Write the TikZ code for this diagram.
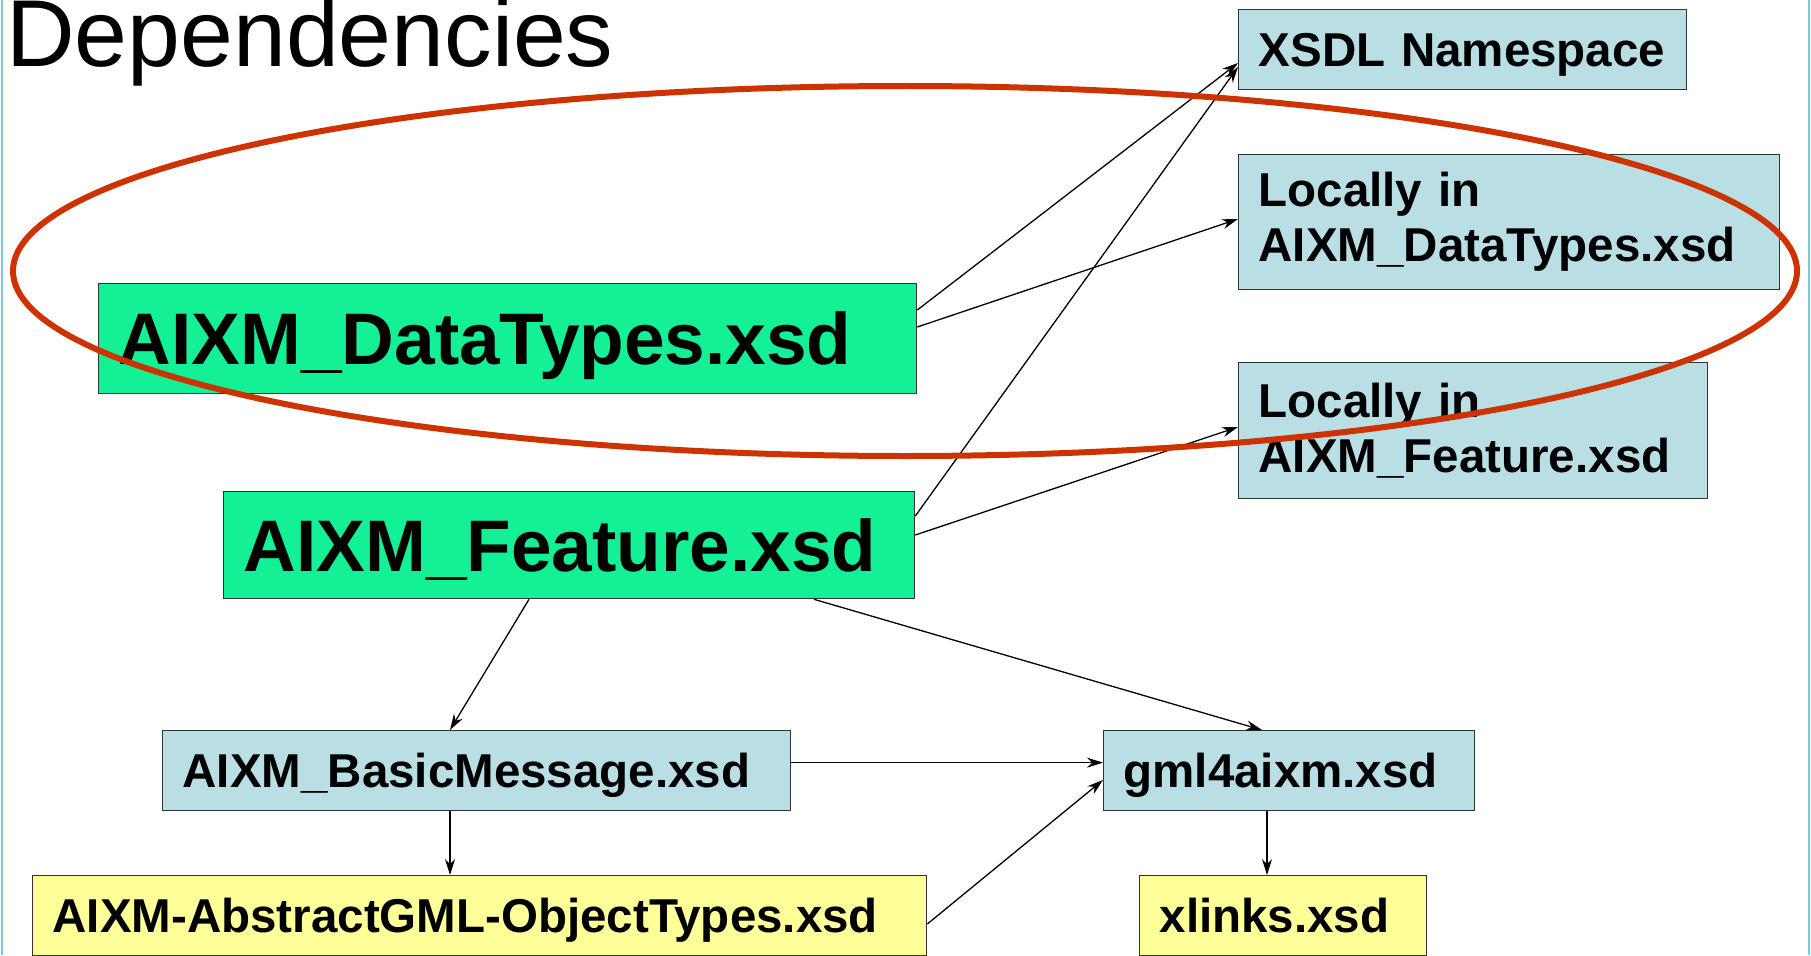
\documentclass[tikz,border=0pt]{standalone}
\usepackage{fontspec}
\setmainfont{Liberation Sans}
\usetikzlibrary{arrows.meta}
\definecolor{boxblue}{RGB}{185,223,229}
\definecolor{boxgreen}{RGB}{20,240,150}
\definecolor{boxyellow}{RGB}{255,255,153}
\definecolor{ringred}{RGB}{204,51,0}
\definecolor{slideedge}{RGB}{120,200,235}
\tikzset{
  filebox/.style={draw=black!80, line width=1.3pt, anchor=north west, inner xsep=20pt, inner ysep=0pt, align=left,
    execute at begin node={\hyphenpenalty=10000\exhyphenpenalty=10000}},
  smallfile/.style={filebox, font=\bfseries\fontsize{47.5}{55}\selectfont},
  oneline/.style={text height=34pt, text depth=0pt},
  bigfile/.style={filebox, fill=boxgreen, font=\bfseries\fontsize{73}{80}\selectfont, text height=52pt, text depth=0pt},
  dep/.style={draw=black, line width=1.3pt, -{Stealth[length=16pt,width=10pt]}},
  ring/.style={draw=ringred, line width=6pt},
}
\begin{document}
\begin{tikzpicture}[x=1pt,y=-1pt]
\clip (0,0) rectangle (1811,955);
\fill[white] (0,0) rectangle (1811,955);
\draw[slideedge, line width=2pt] (1.5,0) -- (1.5,955);
\draw[slideedge, line width=2pt] (1809,0) -- (1809,955);

\node[anchor=base west, inner sep=0pt, font=\fontsize{95}{95}\selectfont] (title) at (6,67) {Dependencies};

% boxes
\node[smallfile, oneline, fill=boxblue, minimum height=80pt, text width=408pt] (xsdl) at (1238,9) {XSDL Namespace};
\node[smallfile, fill=boxblue, minimum height=135pt, text width=501pt] (locdt) at (1238,154) {Locally in\\AIXM\_DataTypes.xsd};
\node[smallfile, fill=boxblue, minimum height=136pt, text width=429pt] (locft) at (1238,362) {Locally in\\AIXM\_Feature.xsd};
\node[bigfile, minimum height=110pt, text width=778pt] (dt) at (98,283) {AIXM\_DataTypes.xsd};
\node[bigfile, minimum height=107pt, text width=651pt] (ft) at (223,491) {AIXM\_Feature.xsd};
\node[smallfile, oneline, fill=boxblue, minimum height=80pt, text width=588pt] (bm) at (162,730) {AIXM\_BasicMessage.xsd};
\node[smallfile, oneline, fill=boxyellow, minimum height=80pt, text width=854pt] (abs) at (32,875) {AIXM-AbstractGML-ObjectTypes.xsd};
\node[smallfile, oneline, fill=boxblue, minimum height=80pt, text width=331pt] (gml) at (1103,730) {gml4aixm.xsd};
\node[smallfile, oneline, fill=boxyellow, minimum height=80pt, text width=247pt] (xl) at (1139,875) {xlinks.xsd};

% connectors
\draw[dep] ([yshift=-27pt]dt.north east) -- ([yshift=-54pt]xsdl.north west);
\draw[dep] ([yshift=-44pt]dt.north east) -- ([yshift=-65pt]locdt.north west);
\draw[dep] ([yshift=-25pt]ft.north east) -- ([yshift=-58pt]xsdl.north west);
\draw[dep] ([yshift=-44pt]ft.north east) -- ([yshift=-65pt]locft.north west);
\draw[dep] ([xshift=306pt]ft.south west) -- ([xshift=288pt]bm.north west);
\draw[dep] ([xshift=591pt]ft.south west) -- ([xshift=159pt]gml.north west);
\draw[dep] ([yshift=8pt]bm.east) -- ([yshift=8pt]gml.west);
\draw[dep] ([xshift=288pt]bm.south west) -- ([xshift=288pt]bm.south west |- abs.north);
\draw[dep] ([yshift=-49pt]abs.north east) -- ([yshift=-50pt]gml.north west);
\draw[dep] ([xshift=164pt]gml.south west) -- ([xshift=164pt]gml.south west |- xl.north);

% highlight ring
\draw[ring] (905,271) ellipse [x radius=892pt, y radius=185pt];
\end{tikzpicture}
\end{document}
